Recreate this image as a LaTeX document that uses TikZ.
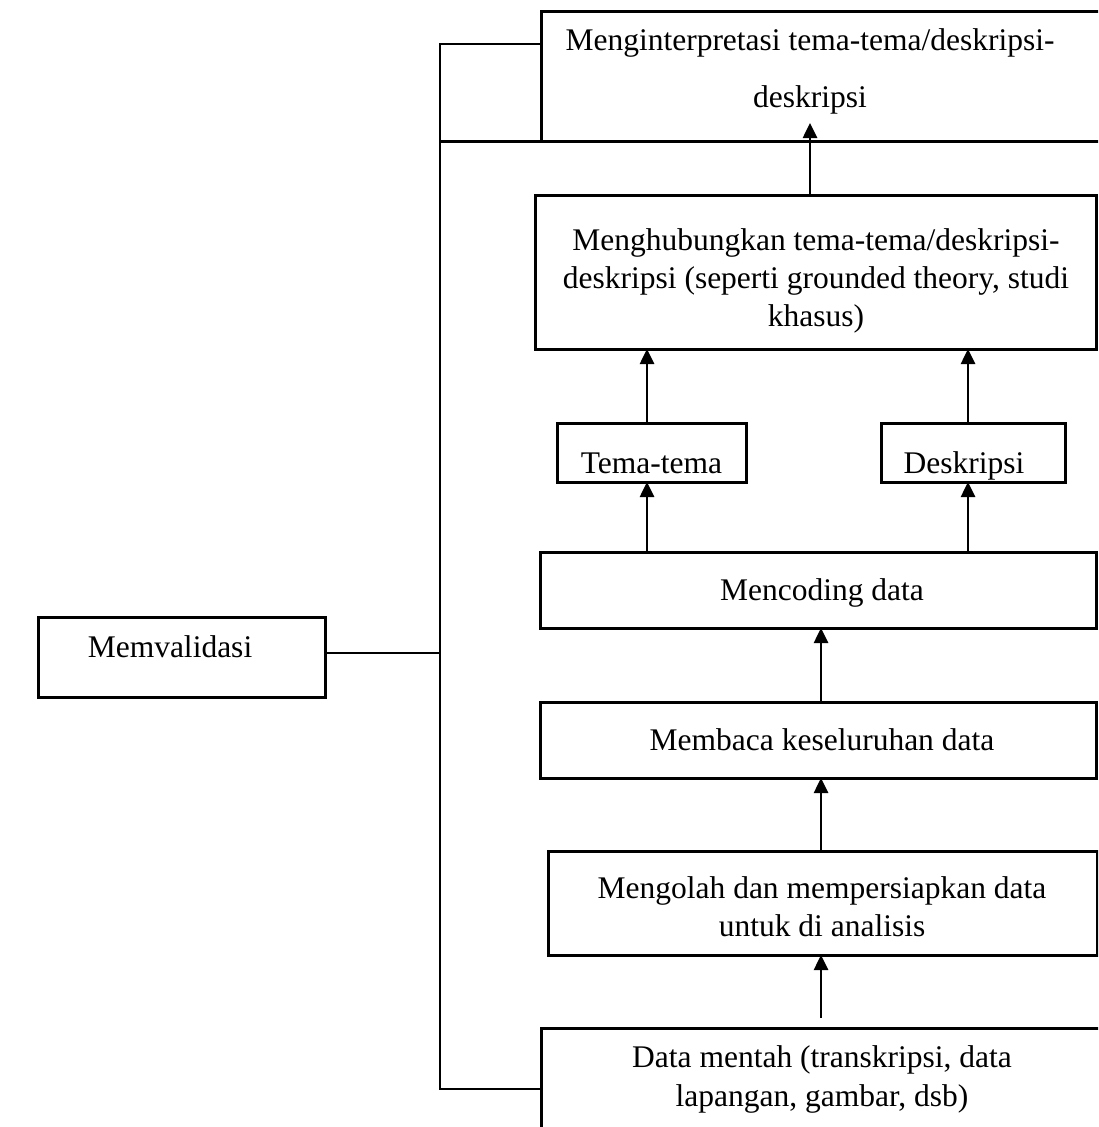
\documentclass[tikz,border=0pt]{standalone}
\usepackage{fontspec}
\setmainfont{Liberation Serif}
\usetikzlibrary{arrows.meta,positioning}
\tikzset{
  box/.style={draw, line width=3pt, rectangle, inner sep=0pt, outer sep=0pt},
  txt/.style={align=center, inner sep=0pt, anchor=base, font=\fontsize{31.5}{38}\selectfont},
  conn/.style={line width=2pt},
  arr/.style={line width=2.6pt, -{Triangle[length=15pt,width=14pt]}},
}
\begin{document}
\begin{tikzpicture}[x=1pt,y=-1pt]
\useasboundingbox (0,0) rectangle (1098,1127);
\clip (0,0) rectangle (1098,1127);
% boxes (pixel coordinates, y downwards)
\node[box, minimum width=569pt, minimum height=130pt] (interp) at (825.5,76) {};
\node[box, minimum width=561pt, minimum height=154pt] (hub) at (816,272) {};
\node[box, minimum width=189pt, minimum height=59pt] (tema) at (651.5,452.5) {};
\node[box, minimum width=184pt, minimum height=59pt] (desk) at (973,452.5) {};
\node[box, minimum width=556pt, minimum height=76pt] (enc) at (818.5,590) {};
\node[box, minimum width=556pt, minimum height=76pt] (baca) at (818.5,740) {};
\node[box, minimum width=549pt, minimum height=104pt] (olah) at (822.5,903) {};
\node[box, minimum width=569pt, minimum height=120pt] (raw) at (825.5,1088) {};
\node[box, minimum width=287pt, minimum height=80pt] (val) at (181.5,657) {};
% texts (base line positions)
\node[txt] (interptxt1) at (810,50) {Menginterpretasi tema-tema/deskripsi-};
\node[txt] (interptxt2) at (810,107) {deskripsi};
\node[txt] (hubtxt1) at (816,250) {Menghubungkan tema-tema/deskripsi-};
\node[txt] (hubtxt2) at (816,288) {deskripsi (seperti grounded theory, studi};
\node[txt] (hubtxt3) at (816,326) {khasus)};
\node[txt] (tematxt) at (651.5,473) {Tema-tema};
\node[txt] (desktxt) at (964,473) {Deskripsi};
\node[txt] (enctxt) at (822,600) {Mencoding data};
\node[txt] (bacatxt) at (822,750) {Membaca keseluruhan data};
\node[txt] (olahtxt1) at (822,898) {Mengolah dan mempersiapkan data};
\node[txt] (olahtxt2) at (822,936) {untuk di analisis};
\node[txt] (rawtxt1) at (822,1067) {Data mentah (transkripsi, data};
\node[txt] (rawtxt2) at (822,1106) {lapangan, gambar, dsb)};
\node[txt] (valtxt) at (170,657) {Memvalidasi};
% bracket on the left
\coordinate (bt) at (440,44);
\coordinate (bb) at (440,1089);
\coordinate (bm) at (440,653);
\coordinate (bl) at (440,141);
\draw[conn] (interp.west |- bt) -- (bt) -- (bb) -- (raw.west |- bb);
\draw[conn] (val.east |- bm) -- (bm);
\draw[line width=3pt] (bl) -- (interp.south west);
% arrows
\coordinate (xt) at (810,123);
\coordinate (xl) at (647,0);
\coordinate (xr) at (968,0);
\coordinate (xm) at (821,0);
\draw[arr] (hub.north -| xt) -- (xt);
\draw[arr] (tema.north -| xl) -- (hub.south -| xl);
\draw[arr] (desk.north -| xr) -- (hub.south -| xr);
\draw[arr] (enc.north -| xl) -- (tema.south -| xl);
\draw[arr] (enc.north -| xr) -- (desk.south -| xr);
\draw[arr] (baca.north -| xm) -- (enc.south -| xm);
\draw[arr] (olah.north -| xm) -- (baca.south -| xm);
\draw[arr] ([yshift=10pt]raw.north -| xm) -- (olah.south -| xm);
\end{tikzpicture}
\end{document}
